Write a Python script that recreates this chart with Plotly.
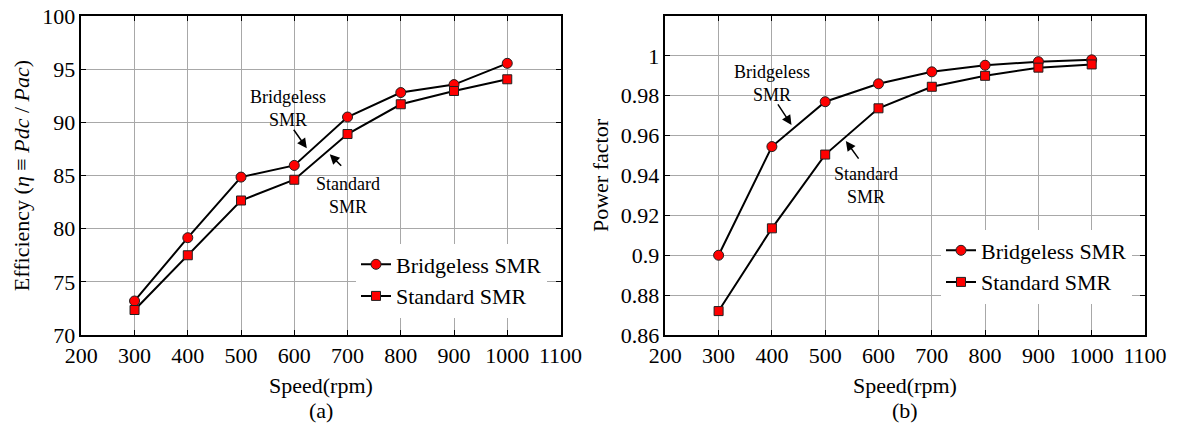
import plotly.graph_objects as go

# Motor speed (rpm)
speed = [300, 400, 500, 600, 700, 800, 900, 1000]

# (a) Efficiency (%)
eff_bridgeless = [73.2, 79.15, 84.85, 85.95, 90.5, 92.8, 93.55, 95.55]
eff_standard = [72.35, 77.5, 82.65, 84.6, 88.9, 91.7, 92.95, 94.05]

# (b) Power factor
pf_bridgeless = [0.900, 0.9545, 0.977, 0.986, 0.992, 0.9953, 0.9971, 0.998]
pf_standard = [0.872, 0.9135, 0.9505, 0.9737, 0.9845, 0.990, 0.9941, 0.9957]

x_ticks = [200, 300, 400, 500, 600, 700, 800, 900, 1000, 1100]
eff_ticks = [70, 75, 80, 85, 90, 95, 100]
pf_ticks = [0.86, 0.88, 0.9, 0.92, 0.94, 0.96, 0.98, 1.0]
pf_ticktext = ["0.86", "0.88", "0.9", "0.92", "0.94", "0.96", "0.98", "1"]

FONT = "'Liberation Serif', 'Times New Roman', Times, serif"
W, H = 1180, 425

line_style = dict(color="black", width=2)
circle = dict(symbol="circle", size=10, color="#ff0000", line=dict(color="#202020", width=1))
square = dict(symbol="square", size=9, color="#ff0000", line=dict(color="#202020", width=1))

fig = go.Figure()
fig.add_trace(go.Scatter(x=speed, y=eff_bridgeless, mode="lines+markers", name="Bridgeless SMR",
                         line=line_style, marker=circle, xaxis="x", yaxis="y", legend="legend"))
fig.add_trace(go.Scatter(x=speed, y=eff_standard, mode="lines+markers", name="Standard SMR",
                         line=line_style, marker=square, xaxis="x", yaxis="y", legend="legend"))
fig.add_trace(go.Scatter(x=speed, y=pf_bridgeless, mode="lines+markers", name="Bridgeless SMR",
                         line=line_style, marker=circle, xaxis="x2", yaxis="y2", legend="legend2"))
fig.add_trace(go.Scatter(x=speed, y=pf_standard, mode="lines+markers", name="Standard SMR",
                         line=line_style, marker=square, xaxis="x2", yaxis="y2", legend="legend2"))

axis_common = dict(
    showline=True, linecolor="black", linewidth=1.5, mirror="ticks",
    ticks="inside", ticklen=5, tickcolor="black", tickwidth=1,
    showgrid=True, gridcolor="#a8a8a8", gridwidth=1, zeroline=False,
    automargin=False,
    tickfont=dict(family=FONT, size=22, color="black"),
)

y_dom = [1 - 335 / H, 1 - 16 / H]
xa_dom = [81.3 / W, 560.5 / W]
xb_dom = [665.3 / W, 1145 / W]
title_font = dict(family=FONT, size=22, color="black")

fig.update_layout(
    width=W, height=H,
    margin=dict(l=0, r=0, t=0, b=0, autoexpand=False),
    paper_bgcolor="white", plot_bgcolor="white",
    font=dict(family=FONT, size=22, color="black"),
    xaxis=dict(axis_common, domain=xa_dom, range=[200, 1100], tickvals=x_ticks, anchor="y"),
    yaxis=dict(axis_common, domain=y_dom, range=[70, 100], tickvals=eff_ticks,
               title=dict(text="Efficiency (<i>η</i> ≡ <i>P</i><i>dc</i> / <i>P</i><i>ac</i>)",
                          standoff=6, font=title_font),
               anchor="x"),
    xaxis2=dict(axis_common, domain=xb_dom, range=[200, 1100], tickvals=x_ticks, anchor="y2"),
    yaxis2=dict(axis_common, domain=y_dom, range=[0.86, 1.02], tickvals=pf_ticks, ticktext=pf_ticktext,
                title=dict(text="Power factor", standoff=6, font=title_font),
                anchor="x2"),
    legend=dict(x=356 / W, y=1 - 280.5 / H, xanchor="left", yanchor="middle",
                bgcolor="white", borderwidth=0, font=title_font,
                tracegroupgap=0, itemwidth=30),
    legend2=dict(x=941 / W, y=1 - 266.5 / H, xanchor="left", yanchor="middle",
                 bgcolor="white", borderwidth=0, font=title_font,
                 tracegroupgap=0, itemwidth=30),
    showlegend=True,
)

note_font = dict(family=FONT, size=18, color="black")
arrow = dict(showarrow=True, arrowhead=2, arrowsize=1.3, arrowwidth=1.5, arrowcolor="black", text="")


def paper_label(text, cx, cy):
    """Text centred on a pixel position of the page."""
    return dict(x=cx / W, y=1 - cy / H, xref="paper", yref="paper", text=text, showarrow=False,
                xanchor="center", yanchor="middle", font=title_font)


xa_mid = (xa_dom[0] + xa_dom[1]) / 2 * W
xb_mid = (xb_dom[0] + xb_dom[1]) / 2 * W

annotations = [
    # (a) curve labels
    dict(x=587.8, y=91.3, xref="x", yref="y", text="Bridgeless<br>SMR", showarrow=False, font=note_font),
    dict(arrow, x=623.5, y=87.56, ax=597, ay=89.44, xref="x", yref="y", axref="x", ayref="y"),
    dict(x=700.4, y=83.1, xref="x", yref="y", text="Standard<br>SMR", showarrow=False, font=note_font),
    dict(arrow, x=666.6, y=86.99, ax=691, ay=85.77, xref="x", yref="y", axref="x", ayref="y"),
    # (b) curve labels
    dict(x=400.6, y=0.9859, xref="x2", yref="y2", text="Bridgeless<br>SMR", showarrow=False, font=note_font),
    dict(arrow, x=436.8, y=0.9653, ax=409.4, ay=0.9764, xref="x2", yref="y2", axref="x2", ayref="y2"),
    dict(x=577.3, y=0.9352, xref="x2", yref="y2", text="Standard<br>SMR", showarrow=False, font=note_font),
    dict(arrow, x=538.7, y=0.9573, ax=564.7, ay=0.9477, xref="x2", yref="y2", axref="x2", ayref="y2"),
    # x-axis titles and panel labels
    paper_label("Speed(rpm)", xa_mid, 385),
    paper_label("Speed(rpm)", xb_mid, 385),
    paper_label("(a)", xa_mid, 410),
    paper_label("(b)", xb_mid, 410),
]
fig.update_layout(annotations=annotations)

fig.write_html("out.html")
